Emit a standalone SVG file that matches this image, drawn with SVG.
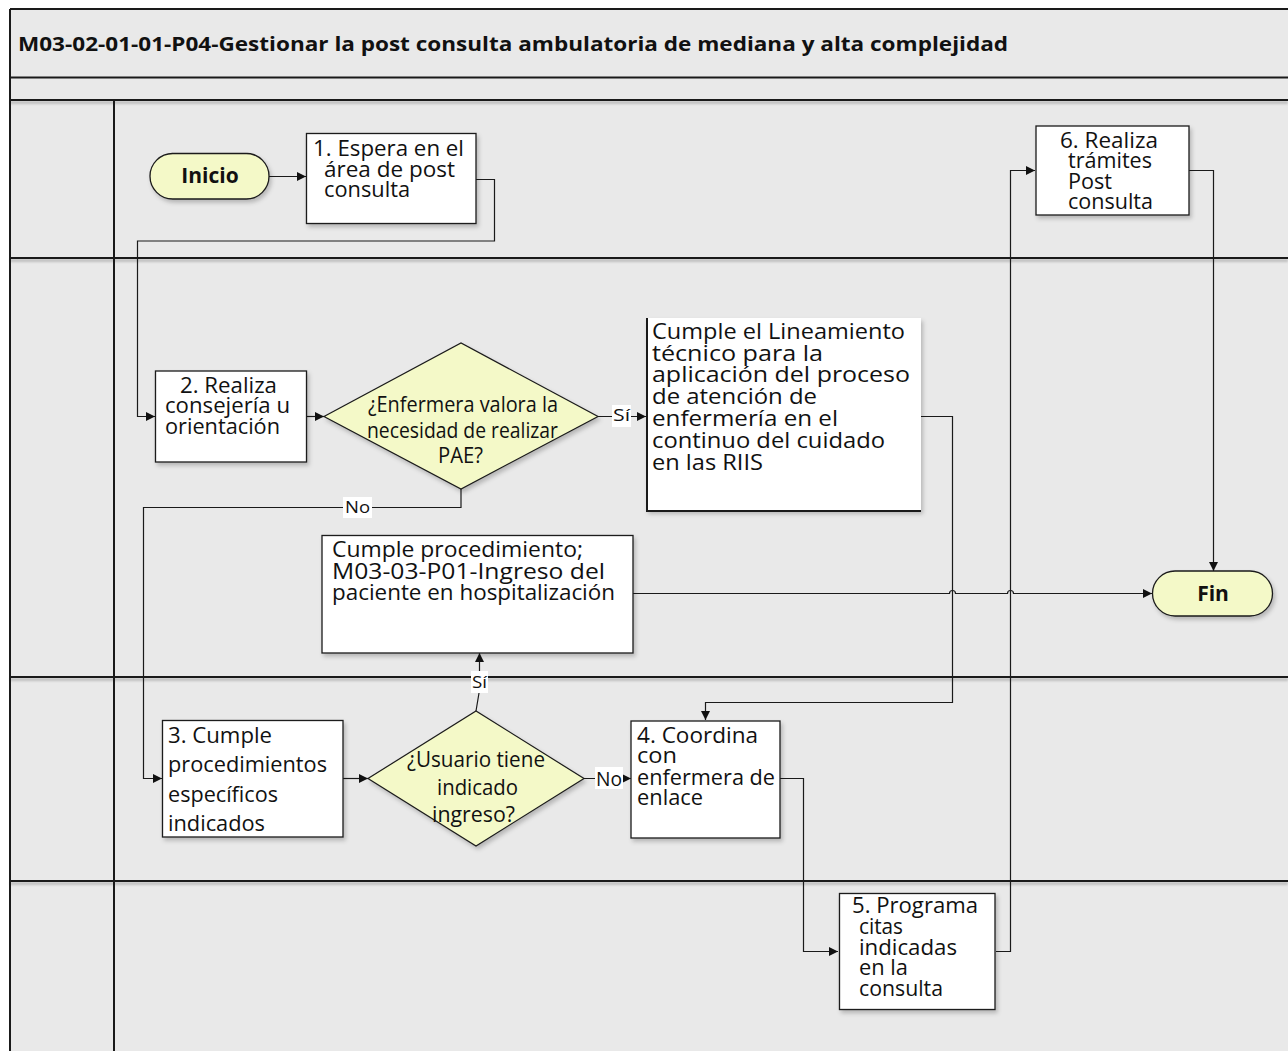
<svg xmlns="http://www.w3.org/2000/svg" width="1288" height="1051" viewBox="0 0 1288 1051">
  <style>
    .t { font-family: "Open Sans", "Noto Sans", "DejaVu Sans", sans-serif; font-size: 21px; fill: #111; }
    .b { font-family: "Open Sans", "Noto Sans", "DejaVu Sans", sans-serif; font-weight: bold; fill: #111; }
    .lbl { font-family: "Open Sans", "Noto Sans", "DejaVu Sans", sans-serif; fill: #111; }
    .box { fill: #ffffff; stroke: #1a1a1a; stroke-width: 1.3; }
    .term { fill: #f4f9c8; stroke: #1a1a1a; stroke-width: 1.3; }
    .dec { fill: #f4f9c8; stroke: #1a1a1a; stroke-width: 1.2; }
    .lane { stroke: #1a1a1a; stroke-width: 2; fill: none; }
    .lshadow { stroke: #000; stroke-opacity: 0.18; stroke-width: 3; fill: none; }
    .con { stroke: #1a1a1a; stroke-width: 1.2; fill: none; }
    .lb { fill: #ffffff; }
  </style>
  <defs>
    <marker id="ah" viewBox="0 0 10 10" refX="10" refY="5" markerWidth="10" markerHeight="9" orient="auto" markerUnits="userSpaceOnUse">
      <path d="M0,0 L10,5 L0,10 z" fill="#111"/>
    </marker>
    <filter id="sh" x="-10%" y="-10%" width="130%" height="130%">
      <feDropShadow dx="2" dy="3" stdDeviation="2" flood-color="#000" flood-opacity="0.22"/>
    </filter>
    <filter id="blur" filterUnits="userSpaceOnUse" x="0" y="0" width="1288" height="1051">
      <feGaussianBlur stdDeviation="1.2"/>
    </filter>
  </defs>

  <!-- pool background and lanes -->
  <g id="pool">
    <rect x="10" y="9" width="1278" height="1042" fill="#e9e9e9"/>
    <!-- soft shadows under the lane separators -->
    <g filter="url(#blur)">
      <path class="lshadow" d="M10,102.5 H1288"/>
      <path class="lshadow" d="M10,260.5 H1288"/>
      <path class="lshadow" d="M10,679.5 H1288"/>
      <path class="lshadow" d="M10,883.5 H1288"/>
    </g>
    <path class="lane" d="M10,9 H1288"/>
    <path class="lane" d="M10,9 V1051"/>
    <path class="lane" d="M10,77.5 H1288" stroke-width="1.5"/>
    <path class="lane" d="M10,100 H1288"/>
    <path class="lane" d="M10,258 H1288"/>
    <path class="lane" d="M10,677 H1288"/>
    <path class="lane" d="M10,881 H1288"/>
    <path class="lane" d="M114,100 V1051"/>
    <text class="b" x="18" y="51" font-size="20" textLength="990" lengthAdjust="spacingAndGlyphs">M03-02-01-01-P04-Gestionar la post consulta ambulatoria de mediana y alta complejidad</text>
  </g>

  <!-- connectors -->
  <g id="connectors">
    <path class="con" d="M269,176.5 H306" marker-end="url(#ah)"/>
    <path class="con" d="M476,179.5 H494.5 V241 H137.5 V416.5 H155" marker-end="url(#ah)"/>
    <path class="con" d="M306,416.5 H324" marker-end="url(#ah)"/>
    <path class="con" d="M598,416.5 H646" marker-end="url(#ah)"/>
    <path class="con" d="M921,416.5 H952.5 V702.5 H705.5 V720" marker-end="url(#ah)"/>
    <path class="con" d="M461,489 V507.5 H143.5 V778.5 H162" marker-end="url(#ah)"/>
    <path class="con" d="M633,593.5 H949.5 a3,3 0 0 1 6,0 H1007.5 a3,3 0 0 1 6,0 H1152" marker-end="url(#ah)"/>
    <path class="con" d="M343,778.5 H368" marker-end="url(#ah)"/>
    <path class="con" d="M476,711 L479.5,690 V653" marker-end="url(#ah)"/>
    <path class="con" d="M584,778.5 H631" marker-end="url(#ah)"/>
    <path class="con" d="M780,778.5 H803.5 V951.5 H838" marker-end="url(#ah)"/>
    <path class="con" d="M996,951.5 H1010.5 V170.5 H1035" marker-end="url(#ah)"/>
    <path class="con" d="M1189,170.5 H1213.5 V571" marker-end="url(#ah)"/>

    <rect class="lb" x="612" y="405" width="19" height="22"/>
    <text class="lbl" x="613" y="421" font-size="16" textLength="17" lengthAdjust="spacingAndGlyphs">Sí</text>
    <rect class="lb" x="343" y="497" width="29" height="21"/>
    <text class="lbl" x="345" y="513" font-size="17" textLength="25" lengthAdjust="spacingAndGlyphs">No</text>
    <rect class="lb" x="471" y="671" width="17" height="22"/>
    <text class="lbl" x="472" y="688" font-size="17" textLength="15" lengthAdjust="spacingAndGlyphs">Sí</text>
    <rect class="lb" x="595" y="767" width="28" height="22"/>
    <text class="lbl" x="596" y="786" font-size="20" textLength="26" lengthAdjust="spacingAndGlyphs">No</text>
  </g>

  <!-- nodes -->
  <g id="inicio">
    <rect class="term" x="150" y="153.5" width="119" height="45.5" rx="22.7" filter="url(#sh)"/>
    <text class="b" x="210" y="183" font-size="21" text-anchor="middle">Inicio</text>
  </g>

  <g id="n1">
    <rect class="box" x="306.5" y="133.5" width="169.5" height="90" filter="url(#sh)"/>
    <text class="t" x="313" y="156" textLength="151" lengthAdjust="spacingAndGlyphs">1. Espera en el</text>
    <text class="t" x="324" y="177" textLength="131" lengthAdjust="spacingAndGlyphs">área de post</text>
    <text class="t" x="324" y="197" textLength="86" lengthAdjust="spacingAndGlyphs">consulta</text>
  </g>

  <g id="n6">
    <rect class="box" x="1036" y="126" width="153" height="89" stroke-width="2" filter="url(#sh)"/>
    <text class="t" x="1060" y="148" font-size="22" textLength="98" lengthAdjust="spacingAndGlyphs">6. Realiza</text>
    <text class="t" x="1068" y="168" font-size="22" textLength="84" lengthAdjust="spacingAndGlyphs">trámites</text>
    <text class="t" x="1068" y="189" font-size="22" textLength="44" lengthAdjust="spacingAndGlyphs">Post</text>
    <text class="t" x="1068" y="209" font-size="22" textLength="85" lengthAdjust="spacingAndGlyphs">consulta</text>
  </g>

  <g id="n2">
    <rect class="box" x="155.5" y="371" width="151" height="91" filter="url(#sh)"/>
    <text class="t" x="180" y="393" textLength="97" lengthAdjust="spacingAndGlyphs">2. Realiza</text>
    <text class="t" x="165" y="413" textLength="125" lengthAdjust="spacingAndGlyphs">consejería u</text>
    <text class="t" x="165" y="434" textLength="115" lengthAdjust="spacingAndGlyphs">orientación</text>
  </g>

  <g id="d1">
    <polygon class="dec" points="324,416.5 461,343 598,416.5 461,489" filter="url(#sh)"/>
    <text class="t" x="368" y="412" font-size="20" textLength="190" lengthAdjust="spacingAndGlyphs">¿Enfermera valora la</text>
    <text class="t" x="367" y="438" font-size="20" textLength="191" lengthAdjust="spacingAndGlyphs">necesidad de realizar</text>
    <text class="t" x="438" y="463" font-size="20" textLength="45" lengthAdjust="spacingAndGlyphs">PAE?</text>
  </g>

  <g id="lineamiento">
    <rect x="646" y="318" width="275" height="193" fill="#ffffff" filter="url(#sh)"/>
    <path d="M647,318 V511 H921" fill="none" stroke="#1a1a1a" stroke-width="2"/>
    <text class="t" x="652" y="339" textLength="253" lengthAdjust="spacingAndGlyphs">Cumple el Lineamiento</text>
    <text class="t" x="652" y="361" textLength="171" lengthAdjust="spacingAndGlyphs">técnico para la</text>
    <text class="t" x="652" y="382" textLength="258" lengthAdjust="spacingAndGlyphs">aplicación del proceso</text>
    <text class="t" x="652" y="404" textLength="165" lengthAdjust="spacingAndGlyphs">de atención de</text>
    <text class="t" x="652" y="426" textLength="186" lengthAdjust="spacingAndGlyphs">enfermería en el</text>
    <text class="t" x="652" y="448" textLength="233" lengthAdjust="spacingAndGlyphs">continuo del cuidado</text>
    <text class="t" x="652" y="470" textLength="111" lengthAdjust="spacingAndGlyphs">en las RIIS</text>
  </g>

  <g id="hospitalizacion">
    <rect class="box" x="322" y="535.5" width="311" height="117.5" filter="url(#sh)"/>
    <text class="t" x="332" y="557" textLength="251" lengthAdjust="spacingAndGlyphs">Cumple procedimiento;</text>
    <text class="t" x="332" y="579" textLength="273" lengthAdjust="spacingAndGlyphs">M03-03-P01-Ingreso del</text>
    <text class="t" x="332" y="600" textLength="283" lengthAdjust="spacingAndGlyphs">paciente en hospitalización</text>
  </g>

  <g id="fin">
    <rect class="term" x="1152.5" y="571" width="120" height="45" rx="22.5" filter="url(#sh)"/>
    <text class="b" x="1213" y="601" font-size="21" text-anchor="middle">Fin</text>
  </g>

  <g id="n3">
    <rect class="box" x="162.5" y="720.5" width="180.5" height="116.5" filter="url(#sh)"/>
    <text class="t" x="168" y="743" textLength="104" lengthAdjust="spacingAndGlyphs">3. Cumple</text>
    <text class="t" x="168" y="772" textLength="159" lengthAdjust="spacingAndGlyphs">procedimientos</text>
    <text class="t" x="168" y="802" textLength="110" lengthAdjust="spacingAndGlyphs">específicos</text>
    <text class="t" x="168" y="831" textLength="97" lengthAdjust="spacingAndGlyphs">indicados</text>
  </g>

  <g id="d2">
    <polygon class="dec" points="368,778.5 476,711 584,778.5 476,846" filter="url(#sh)"/>
    <text class="t" x="407" y="767" font-size="20" textLength="138" lengthAdjust="spacingAndGlyphs">¿Usuario tiene</text>
    <text class="t" x="437" y="795" font-size="20" textLength="81" lengthAdjust="spacingAndGlyphs">indicado</text>
    <text class="t" x="432" y="822" font-size="20" textLength="83" lengthAdjust="spacingAndGlyphs">ingreso?</text>
  </g>

  <g id="n4">
    <rect class="box" x="631" y="721" width="149" height="117" filter="url(#sh)"/>
    <text class="t" x="637" y="743" font-size="22" textLength="121" lengthAdjust="spacingAndGlyphs">4. Coordina</text>
    <text class="t" x="637" y="763" font-size="22" textLength="40" lengthAdjust="spacingAndGlyphs">con</text>
    <text class="t" x="637" y="785" font-size="22" textLength="138" lengthAdjust="spacingAndGlyphs">enfermera de</text>
    <text class="t" x="637" y="805" font-size="22" textLength="66" lengthAdjust="spacingAndGlyphs">enlace</text>
  </g>

  <g id="n5">
    <rect class="box" x="839.5" y="893.5" width="155.5" height="116" stroke-width="3" filter="url(#sh)"/>
    <text class="t" x="852" y="913" textLength="126" lengthAdjust="spacingAndGlyphs">5. Programa</text>
    <text class="t" x="859" y="934" textLength="44" lengthAdjust="spacingAndGlyphs">citas</text>
    <text class="t" x="859" y="955" textLength="98" lengthAdjust="spacingAndGlyphs">indicadas</text>
    <text class="t" x="859" y="975" textLength="49" lengthAdjust="spacingAndGlyphs">en la</text>
    <text class="t" x="859" y="996" textLength="84" lengthAdjust="spacingAndGlyphs">consulta</text>
  </g>
</svg>
